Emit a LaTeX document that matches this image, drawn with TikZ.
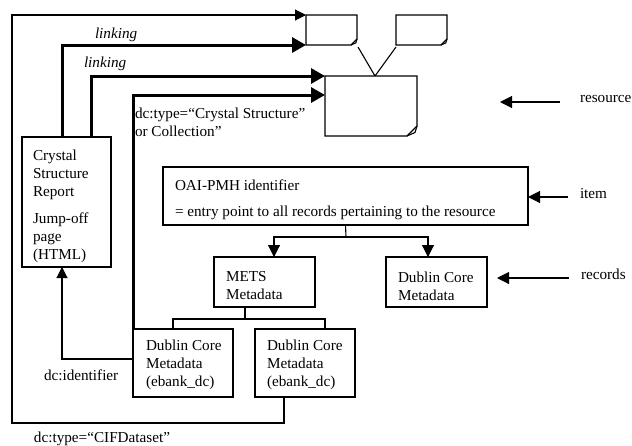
\documentclass[tikz,border=0pt]{standalone}
\usepackage{fontspec}
\setmainfont{Liberation Serif}
\usetikzlibrary{arrows.meta}

% folded-corner outline for a document node: #1 node name, #2 fold size
\newcommand\docoutline[2]{%
  \draw[thinline] (#1.north west) -- (#1.north east)
    -- ([yshift=#2]#1.south east) -- ([xshift=-#2]#1.south east)
    -- (#1.south west) -- cycle;
  \draw[thinline] ([xshift=-#2]#1.south east)
    -- ([xshift=-0.2*#2,yshift=0.35*#2]#1.south east)
    -- ([yshift=#2]#1.south east);
}

\begin{document}
\begin{tikzpicture}[x=1pt,y=-1pt,
  every node/.style={font=\fontsize{15.2}{18}\selectfont, inner sep=0pt, outer sep=0pt},
  thinline/.style={line width=1.1pt},
  thickline/.style={line width=3pt},
  box/.style={draw, thinline, minimum width=#1},
  doc/.style={minimum width=#1},
  txt/.style={anchor=north west, align=left, yshift=-2pt},
  thinarrow/.style={thinline, -{Triangle[length=11pt,width=11pt]}},
  thickarrow/.style={thickline, -{Triangle[length=14pt,width=15pt]}},
  ptrarrow/.style={thinline, -{Triangle[length=12pt,width=12pt]}}]

\useasboundingbox (0,0) rectangle (632,445);

% documents
\node[doc=51pt, minimum height=30pt] (top1) at (331.5,30) {};
\node[doc=51pt, minimum height=30pt] (top2) at (421.5,30) {};
\node[doc=92pt, minimum height=60pt] (res) at (371,106) {};
\docoutline{top1}{6pt}
\docoutline{top2}{6pt}
\docoutline{res}{10pt}
\coordinate (join) at (375,76);
\draw[thinline] ([xshift=1pt,yshift=-2pt]top1.south east) -- (join);
\draw[thinline] ([yshift=-2pt]top2.south west) -- (join);

% boxes
\node[box=89pt, minimum height=130pt] (crystal) at (66.5,202) {};
\node[box=365pt, minimum height=58pt] (oai) at (345.5,196) {};
\node[box=101pt, minimum height=50pt] (mets) at (264.5,282) {};
\node[box=101pt, minimum height=50pt] (dcr) at (436.5,282) {};
\node[box=100pt, minimum height=68pt] (dc1) at (183,363) {};
\node[box=100pt, minimum height=68pt] (dc2) at (305,363) {};

% box texts
\node[txt] (crystaltxt) at (33,147.5) {Crystal\\Structure\\Report\\[9pt]Jump-off\\page\\(HTML)};
\node[txt] (oaitxt) at (175,177.5) {OAI-PMH identifier\\[8pt]= entry point to all records pertaining to the resource};
\node[txt] (metstxt) at (226,269.5) {METS\\Metadata};
\node[txt] (dcrtxt) at (398,269.5) {Dublin Core\\Metadata};
\node[txt] (dc1txt) at (146,337.5) {Dublin Core\\Metadata\\(ebank\_dc)};
\node[txt] (dc2txt) at (267,337.5) {Dublin Core\\Metadata\\(ebank\_dc)};

% labels
\node[txt, font=\fontsize{15.2}{18}\selectfont\itshape] (link1) at (95,25.5) {linking};
\node[txt, font=\fontsize{15.2}{18}\selectfont\itshape] (link2) at (84,54.5) {linking};
\node[txt] (typecs) at (135,105.5) {dc:type=“Crystal Structure”\\or Collection”};
\node[txt] (lres) at (580,93.5) {resource};
\node[txt] (litem) at (580,186.5) {item};
\node[txt] (lrec) at (581,266.5) {records};
\node[txt] (dcid) at (44,367.5) {dc:identifier};
\node[txt] (dccif) at (34,429.5) {dc:type=“CIFDataset”};

% outer loop from the second record to the first document
\coordinate (loopcorner) at (12,423);
\draw[thinarrow] ([xshift=-21pt]dc2.south) |- (loopcorner) |- (top1.north west);

% linking arrows from the jump-off page
\draw[thickarrow] ([xshift=-4.5pt]crystal.north) |- (top1.south west);
\draw[thickarrow] ([xshift=24.5pt]crystal.north) |- (res.north west);
\draw[thickarrow] (dc1.north west) |- ([yshift=-19pt]res.north west);

% dc:identifier pointer
\draw[thinarrow] ([yshift=4pt]dc1.west) -| ([xshift=-4.5pt]crystal.south);

% item to records
\coordinate (branch) at (346,237);
\draw[thinline] (oai.south) -- (branch);
\draw[ptrarrow] (branch) -| ([xshift=9.5pt]mets.north);
\draw[ptrarrow] (branch) -| ([xshift=-8.5pt]dcr.north);

% METS to Dublin Core records
\coordinate (metsbranch) at (245,319);
\draw[thinline] ([xshift=-19.5pt]mets.south) -- (metsbranch);
\draw[thinline] (metsbranch) -| ([xshift=-10pt]dc1.north);
\draw[thinline] (metsbranch) -| ([xshift=20pt]dc2.north);

% level pointers
\coordinate (resfrom) at (560,102);
\coordinate (resto) at (500,102);
\coordinate (itemfrom) at (568,197);
\coordinate (recfrom) at (569,278);
\coordinate (recto) at (497,278);
\draw[ptrarrow] (resfrom) -- (resto);
\draw[ptrarrow] (itemfrom) -- ([yshift=-1pt]oai.east);
\draw[ptrarrow] (recfrom) -- (recto);
\end{tikzpicture}
\end{document}
